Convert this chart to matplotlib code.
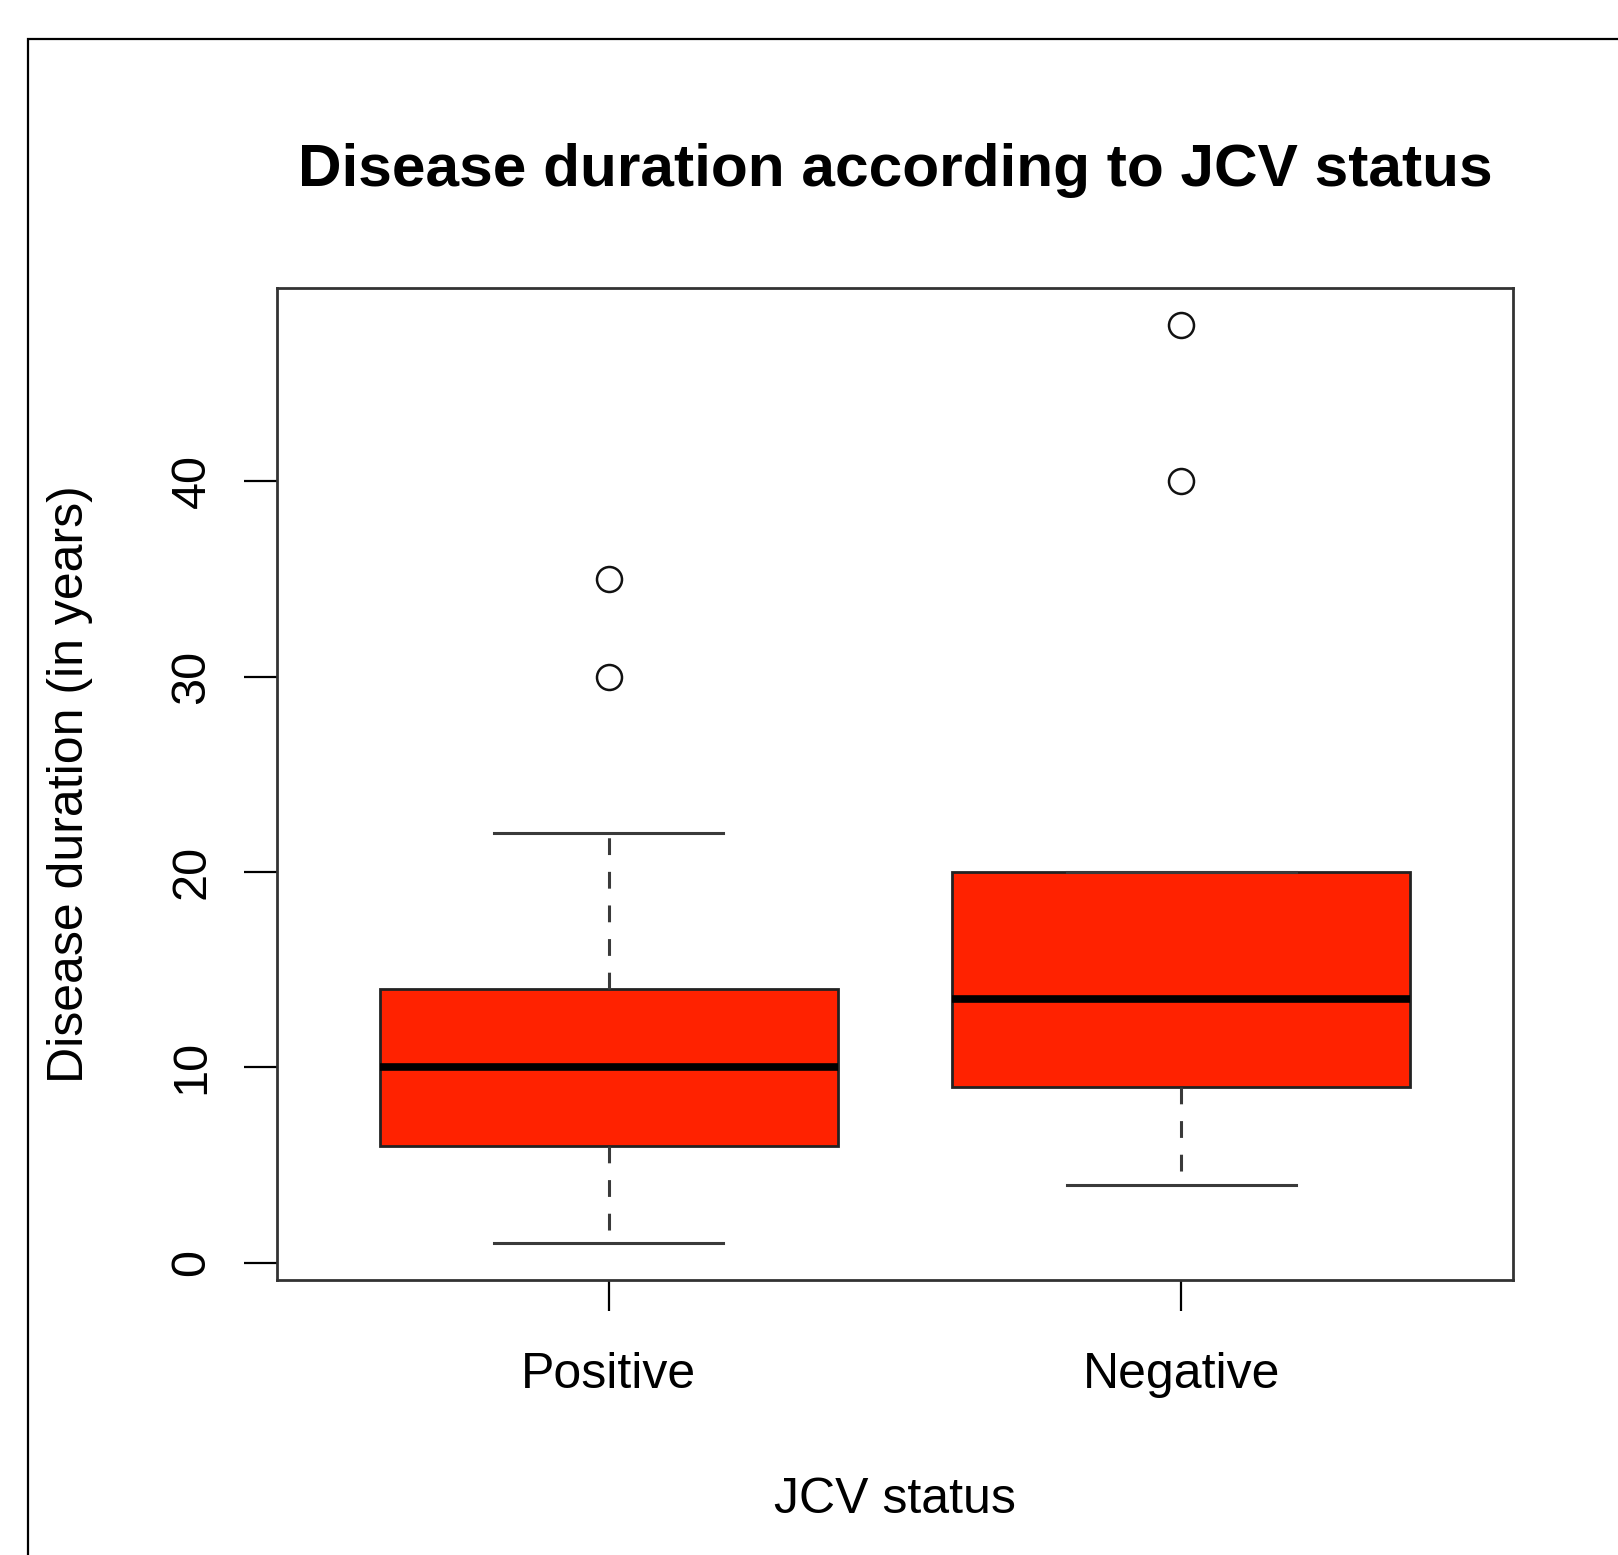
import matplotlib
matplotlib.use("Agg")
import matplotlib.pyplot as plt
from matplotlib.patches import Rectangle

plt.rcParams['font.family'] = ['Liberation Sans', 'DejaVu Sans']

# data (R style boxplot summary)
groups   = ["Positive", "Negative"]
q1       = [6, 9]
medians  = [10, 13.5]
q3       = [14, 20]
whis_lo  = [1, 4]
whis_hi  = [22, 20]
outliers = [[30, 35], [40, 48]]
yticks   = [0, 10, 20, 30, 40]

W, H = 1618, 1555
fig = plt.figure(figsize=(W / 100, H / 100), dpi=100)

# outer frame of the original picture (runs off right and bottom)
fig.add_artist(Rectangle((28 / W, -0.1), 1.2, 1.1 - 39 / H,
                         transform=fig.transFigure, fill=False,
                         edgecolor='black', linewidth=1.6))

ax = fig.add_axes([277 / W, 1 - 1280 / H, (1513 - 277) / W, (1280 - 288) / H])

stats = []
for i in range(len(groups)):
    stats.append(dict(label=groups[i], q1=q1[i], med=medians[i], q3=q3[i],
                      whislo=whis_lo[i], whishi=whis_hi[i], fliers=outliers[i]))

ax.bxp(stats, positions=[1, 2], widths=0.8, capwidths=0.4, patch_artist=True,
       boxprops=dict(facecolor='#ff2200', edgecolor='#222222', linewidth=2.0),
       medianprops=dict(color='black', linewidth=5.5, solid_capstyle='butt'),
       whiskerprops=dict(color='#3a3a3a', linewidth=2.2, linestyle=(0, (5.5, 5.5))),
       capprops=dict(color='#3a3a3a', linewidth=2.2),
       flierprops=dict(marker='o', markersize=18, markerfacecolor='none',
                       markeredgecolor='#111111', markeredgewidth=1.8))

# R default: 4% padding on both axes
lo, hi = min(whis_lo), max(max(o) for o in outliers)
pad = (hi - lo) * 0.04
ax.set_ylim(lo - pad, hi + pad)
ax.set_xlim(0.5 - 0.08, 2.5 + 0.08)

ax.set_yticks(yticks)
ax.set_yticklabels([str(t) for t in yticks], rotation=90, va='center', fontsize=35)
ax.set_xticks([1, 2])
ax.set_xticklabels(groups, fontsize=36)
ax.tick_params(axis='y', length=24, width=1.6, pad=21)
ax.tick_params(axis='x', length=22, width=1.6, pad=30)
for s in ax.spines.values():
    s.set_linewidth(2.0)
    s.set_color('#333333')

fig.text(895 / W, 1 - 171 / H, "Disease duration according to JCV status",
         ha='center', va='center', fontsize=43.5, fontweight='bold')
fig.text(895 / W, 1 - 1500 / H, "JCV status", ha='center', va='center', fontsize=36)
fig.text(70 / W, 1 - 784 / H, "Disease duration (in years)", ha='center',
         va='center', rotation=90, fontsize=36)

fig.savefig("out.png", dpi=100)
